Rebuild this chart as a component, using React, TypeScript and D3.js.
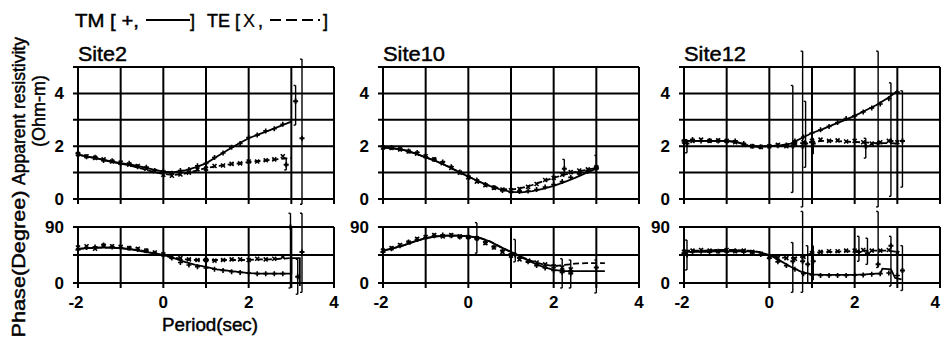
import React from 'react';
import * as d3 from 'd3';

// ---------- data (log10 period on x) ----------
const siteNames = ['Site2', 'Site10', 'Site12'];
const xTicks = [-2, -1, 0, 1, 2, 3, 4];
const xTickLabels = ['-2', '0', '2', '4'];
const rhoGrid = [0, 1, 2, 3, 4, 5];
const rhoTickLabels = ['0', '2', '4'];
const phGrid = [0, 45, 90];
const phTickLabels = ['0', '90'];

const curvePeriods = [-2, -1.75, -1.5, -1.25, -1, -0.75, -0.5, -0.25, 0, 0.25, 0.5, 0.75, 1, 1.25, 1.5, 1.75, 2, 2.25, 2.5, 2.75, 3];

const site2RhoTMCurve = [1.68, 1.6, 1.52, 1.43, 1.36, 1.3, 1.22, 1.12, 1.04, 1.02, 1.08, 1.2, 1.35, 1.6, 1.85, 2.08, 2.3, 2.46, 2.61, 2.77, 2.93];
const site2RhoTECurve = [1.68, 1.6, 1.52, 1.42, 1.34, 1.25, 1.15, 1.04, 0.95, 0.91, 0.96, 1.07, 1.17, 1.24, 1.3, 1.35, 1.4, 1.44, 1.48, 1.52, 1.55];
const site2PhTMCurve = [55, 56, 57, 57, 56, 54, 51, 48, 45, 40, 34, 29, 26, 22, 20, 18, 16, 15, 15, 15, 15];
const site2PhTECurve = [55, 56, 57, 57, 56, 54, 52, 48, 44, 41, 38, 37, 37, 37, 37, 37, 37, 38, 38, 39, 40];
const site2PhTMTailX = [3.0, 3.2, 3.2];
const site2PhTMTailY = [40, 40, -5];

const site10RhoTMCurve = [1.95, 1.92, 1.85, 1.73, 1.58, 1.43, 1.25, 1.05, 0.85, 0.66, 0.5, 0.36, 0.27, 0.25, 0.3, 0.38, 0.5, 0.64, 0.8, 0.98, 1.15];
const site10RhoTECurve = [1.95, 1.92, 1.85, 1.73, 1.58, 1.43, 1.25, 1.05, 0.85, 0.66, 0.5, 0.4, 0.35, 0.42, 0.53, 0.67, 0.8, 0.92, 1.02, 1.1, 1.18];
const site10PhTMCurve = [52, 56, 61, 67, 72, 75, 76, 76, 75, 73, 67, 58, 50, 41, 33, 26, 21, 19, 19, 19, 19];
const site10PhTECurve = [52, 56, 61, 67, 72, 75, 76, 76, 75, 73, 67, 58, 50, 42, 35, 30, 27, 29, 31, 32, 32];
const site10PhTMTailX = [3.2];
const site10PhTMTailY = [19];
const site10PhTETailX = [3.2];
const site10PhTETailY = [32];

const site12RhoTMCurve = [2.2, 2.2, 2.2, 2.2, 2.2, 2.15, 2.02, 1.98, 2.0, 2.03, 2.1, 2.3, 2.5, 2.65, 2.82, 2.98, 3.15, 3.35, 3.55, 3.8, 4.08];
const site12RhoTECurve = [2.2, 2.2, 2.2, 2.2, 2.2, 2.15, 2.02, 1.98, 2.0, 2.03, 2.08, 2.12, 2.16, 2.2, 2.2, 2.18, 2.16, 2.14, 2.12, 2.12, 2.1];
const site12PhTMCurve = [50, 50, 50, 51, 51, 51, 51, 50, 45, 36, 26, 18, 14, 13, 13, 13, 13, 14, 15];
const site12PhTECurve = [52, 52, 52, 53, 53, 53, 52, 50, 44, 41, 40, 42, 48, 50, 50, 51, 51, 52, 52, 52, 50];
const site12PhTMTailX = [2.6, 2.65, 2.85, 2.95, 3.1];
const site12PhTMTailY = [15, 23, 22, 8, 6];

const markerPeriods = [-2, -1.8, -1.6, -1.4, -1.2, -1, -0.8, -0.6, -0.4, -0.2, 0, 0.2, 0.4, 0.6, 0.8, 1, 1.2, 1.4, 1.6, 1.8, 2, 2.2, 2.4, 2.6, 2.8, 3];

const site2RhoTMPts = [1.72, 1.6, 1.58, 1.46, 1.45, 1.33, 1.35, 1.22, 1.2, 1.08, 1.06, 0.98, 1.08, 1.12, 1.26, 1.35, 1.57, 1.74, 1.96, 2.1, 2.33, 2.42, 2.58, 2.66, 2.83, null];
const site2RhoTEPts = [1.7, 1.62, 1.56, 1.5, 1.42, 1.38, 1.3, 1.25, 1.15, 1.05, 0.92, 0.88, 0.93, 1.0, 1.12, 1.15, 1.25, 1.27, 1.33, 1.35, 1.42, 1.42, 1.47, 1.5, 1.62, null];
const site2PhTMPts = [53, 57, 58, 61, 58, 57, 56, 54, 52, 48, 45, 40, 33, 29, 26, 24, 22, 20, 18, 17, 16, 15, 15, 15, 15, null];
const site2PhTEPts = [57, 59, 55, 60, 59, 58, 56, 55, 52, 49, 46, 42, 40, 38, 37, 37, 36, 37, 38, 38, 37, 39, 38, 39, 42, null];

const site10RhoTMPts = [1.98, 1.95, 1.9, 1.82, 1.76, 1.6, 1.5, 1.4, 1.22, 1.02, 0.85, 0.72, 0.55, 0.44, 0.32, 0.25, 0.28, 0.3, 0.36, 0.45, 0.55, 0.66, 0.82, 0.95, 1.05, 1.15];
const site10RhoTEPts = [1.95, 1.93, 1.88, 1.8, 1.72, 1.62, 1.5, 1.36, 1.18, 1.0, 0.82, 0.66, 0.52, 0.42, 0.36, 0.33, 0.38, 0.46, 0.57, 0.72, 0.8, 0.92, 1.02, 1.08, 1.12, 1.2];
const site10PhTMPts = [50, 55, 60, 66, 70, 73, 76, 77, 76, 74, 73, 71, 65, 58, 52, 47, 40, 34, 28, 24, 20, 17, 15, null, null, null];
const site10PhTEPts = [52, 56, 61, 65, 71, 74, 77, 75, 77, 75, 74, 72, 64, 57, 50, 44, 38, 36, 33, 30, 27, 25, 22, null, null, null];

const site12RhoTMPts = [2.2, 2.25, 2.2, 2.22, 2.2, 2.18, 2.2, 2.1, 2.0, 1.98, 2.0, 2.02, 2.05, 2.2, 2.35, 2.5, 2.62, 2.75, 2.9, 3.05, 3.15, 3.3, 3.45, 3.6, 3.8, 4.05];
const site12RhoTEPts = [2.18, 2.2, 2.25, 2.2, 2.22, 2.2, 2.15, 2.05, 2.0, 1.97, 2.0, 2.05, 2.0, 2.1, 2.15, 2.2, 2.25, 2.2, 2.22, 2.18, 2.2, 2.15, 2.1, 2.15, 2.2, 2.15];
const site12PhTMPts = [48, 50, 51, 50, 51, 50, 52, 50, 49, 46, 40, 34, 28, 22, 15, 13, 12, 12, 12, 12, 13, 13, 14, 15, 16, 12];
const site12PhTEPts = [50, 52, 53, 52, 51, 53, 51, 52, 50, 47, 42, 40, 40, 39, 42, 48, 50, 51, 51, 52, 52, 53, 52, 52, 53, 48];

// error bars: [period, value, low, high]
const site2RhoErr = [[2.88, 1.3, 1.1, 1.55], [3.1, 3.7, 2.8, 4.3], [3.25, 2.3, -0.2, 5.3]];
const site2PhErr = [[2.98, 90, -8, 112], [3.15, 10, -18, 38], [3.25, 50, -15, 112]];
const site10RhoErr = [[2.25, 1.15, 0.9, 1.5], [3.0, 1.2, 1.0, 1.65]];
const site10PhErr = [[0.2, 72, 48, 97], [1.1, 45, 34, 70], [2.2, 20, -8, 39], [2.4, 18, -8, 37], [3.0, 25, -16, 37]];
const site12RhoErr = [[-1.93, 2.1, 1.75, 2.25], [0.55, 2.0, 0.25, 4.3], [0.78, 2.0, -0.3, 5.6], [0.85, 2.1, 1.2, 3.7], [1.03, 2.1, 1.7, 2.3], [2.26, 2.0, 1.55, 2.3], [2.55, 2.1, -0.3, 5.6], [2.85, 2.2, 0.1, 4.4], [3.12, 2.2, 0.45, 4.1]];
const site12PhErr = [[-1.93, 45, 21, 69], [0.55, 35, -15, 65], [0.78, 35, -15, 115], [0.9, 30, 0, 60], [1.03, 35, 5, 60], [2.1, 50, 35, 75], [2.3, 48, 30, 72], [2.55, 30, 25, 115], [2.85, 60, -5, 75], [3.12, 20, -12, 60]];

// ---------- layout ----------
const FONT = '"Liberation Sans", Arial, Helvetica, sans-serif';
const LEFTS = [78, 383, 684];
const PW = 256;
const RHO_TOP = 67, RHO_BOT = 199, PH_TOP = 227, PH_BOT = 283;
const W = 941;

type Pt = [number, number];
const zip = (xs: number[], ys: (number | null)[]): Pt[] =>
  xs.map((x, i) => [x, ys[i]] as [number, number | null]).filter(d => d[1] !== null && d[1] !== undefined) as Pt[];

const sites = [
  {
    rhoTM: zip(curvePeriods, site2RhoTMCurve), rhoTE: zip(curvePeriods, site2RhoTECurve),
    phTM: zip(curvePeriods, site2PhTMCurve).concat(zip(site2PhTMTailX, site2PhTMTailY)),
    phTE: zip(curvePeriods, site2PhTECurve),
    rhoTMp: zip(markerPeriods, site2RhoTMPts), rhoTEp: zip(markerPeriods, site2RhoTEPts),
    phTMp: zip(markerPeriods, site2PhTMPts), phTEp: zip(markerPeriods, site2PhTEPts),
    rhoErr: site2RhoErr, phErr: site2PhErr,
  },
  {
    rhoTM: zip(curvePeriods, site10RhoTMCurve), rhoTE: zip(curvePeriods, site10RhoTECurve),
    phTM: zip(curvePeriods, site10PhTMCurve).concat(zip(site10PhTMTailX, site10PhTMTailY)),
    phTE: zip(curvePeriods, site10PhTECurve).concat(zip(site10PhTETailX, site10PhTETailY)),
    rhoTMp: zip(markerPeriods, site10RhoTMPts), rhoTEp: zip(markerPeriods, site10RhoTEPts),
    phTMp: zip(markerPeriods, site10PhTMPts), phTEp: zip(markerPeriods, site10PhTEPts),
    rhoErr: site10RhoErr, phErr: site10PhErr,
  },
  {
    rhoTM: zip(curvePeriods, site12RhoTMCurve), rhoTE: zip(curvePeriods, site12RhoTECurve),
    phTM: zip(curvePeriods, site12PhTMCurve).concat(zip(site12PhTMTailX, site12PhTMTailY)),
    phTE: zip(curvePeriods, site12PhTECurve),
    rhoTMp: zip(markerPeriods, site12RhoTMPts), rhoTEp: zip(markerPeriods, site12RhoTEPts),
    phTMp: zip(markerPeriods, site12PhTMPts), phTEp: zip(markerPeriods, site12PhTEPts),
    rhoErr: site12RhoErr, phErr: site12PhErr,
  },
];

const PLUS = 'M-2.5,0H2.5M0,-2.5V2.5';
const CROSS = 'M-2,-2L2,2M-2,2L2,-2';
const INK = { stroke: '#000', strokeWidth: 0.45 };

function Panel({ idx }: { idx: number }) {
  const s = sites[idx];
  const left = LEFTS[idx];
  const x = d3.scaleLinear().domain([-2, 4]).range([left, left + PW]);
  const yR = d3.scaleLinear().domain([0, 5]).range([RHO_BOT, RHO_TOP]);
  const yP = d3.scaleLinear().domain([0, 90]).range([PH_BOT, PH_TOP]);
  const lineR = d3.line<Pt>().x(d => x(d[0])).y(d => yR(d[1]));
  const lineP = d3.line<Pt>().x(d => x(d[0])).y(d => yP(d[1]));

  const grid = (y: d3.ScaleLinear<number, number>, vals: number[], top: number, bot: number) => (
    <g stroke="#000" strokeWidth={2} fill="none">
      {vals.map(v => <line key={'h' + v} x1={left - 5} x2={left + PW} y1={y(v)} y2={y(v)} />)}
      {xTicks.map(t => <line key={'v' + t} x1={x(t)} x2={x(t)} y1={top} y2={bot + 5} />)}
    </g>
  );

  const err = (rows: number[][], y: d3.ScaleLinear<number, number>) => (
    <g stroke="#000" strokeWidth={1.4} fill="none">
      {rows.map((r, i) => (
        <g key={i}>
          <line x1={x(r[0])} x2={x(r[0])} y1={y(r[2])} y2={y(r[3])} />
          <line x1={x(r[0]) - 2} x2={x(r[0])} y1={y(r[2])} y2={y(r[2])} />
          <line x1={x(r[0]) - 2} x2={x(r[0])} y1={y(r[3])} y2={y(r[3])} />
          <path d={PLUS} transform={`translate(${x(r[0])},${y(r[1])})`} strokeWidth={2} />
        </g>
      ))}
    </g>
  );

  const marks = (pts: Pt[], y: d3.ScaleLinear<number, number>, shape: string) => (
    <g stroke="#000" strokeWidth={1.6} fill="none">
      {pts.map((p, i) => <path key={i} d={shape} transform={`translate(${x(p[0])},${y(p[1])})`} />)}
    </g>
  );

  return (
    <g>
      <text x={left} y={61} fontSize={20} fontFamily={FONT} {...INK} textLength={idx === 0 ? 49 : 62} lengthAdjust="spacingAndGlyphs">{siteNames[idx]}</text>
      {grid(yR, rhoGrid, RHO_TOP, RHO_BOT)}
      {grid(yP, phGrid, PH_TOP, PH_BOT)}
      {rhoTickLabels.map(l => (
        <text key={'r' + l} x={left - 14} y={yR(+l) + 6} textAnchor="end" fontSize={17} fontWeight="bold" fontFamily={FONT}>{l}</text>
      ))}
      {phTickLabels.map(l => (
        <text key={'p' + l} x={left - 14} y={yP(+l) + 6} textAnchor="end" fontSize={17} fontWeight="bold" fontFamily={FONT}>{l}</text>
      ))}
      {xTickLabels.map(l => {
        const px = x(+l) + (l.startsWith('-') ? -2 : 0);
        const edge = px + 6 > W;
        return (
          <text key={'x' + l} x={edge ? W - 1 : px} y={308} textAnchor={edge ? 'end' : 'middle'} fontSize={17} fontWeight="bold" fontFamily={FONT}>{l}</text>
        );
      })}
      {/* model curves */}
      <path d={lineR(s.rhoTM) || ''} stroke="#000" strokeWidth={1.8} fill="none" />
      <path d={lineR(s.rhoTE) || ''} stroke="#000" strokeWidth={1.8} fill="none" strokeDasharray="6 3" />
      <path d={lineP(s.phTM) || ''} stroke="#000" strokeWidth={1.8} fill="none" />
      <path d={lineP(s.phTE) || ''} stroke="#000" strokeWidth={1.8} fill="none" strokeDasharray="6 3" />
      {/* data */}
      {marks(s.rhoTMp, yR, PLUS)}
      {marks(s.rhoTEp, yR, CROSS)}
      {marks(s.phTMp, yP, PLUS)}
      {marks(s.phTEp, yP, CROSS)}
      {err(s.rhoErr, yR)}
      {err(s.phErr, yP)}
    </g>
  );
}

export default function App() {
  return (
    <svg width={W} height={343} style={{ position: 'absolute', left: 0, top: 0, background: '#fff' }}>
      <rect width={W} height={343} fill="#fff" />
      {/* legend */}
      <g fontFamily={FONT} fontSize={18} {...INK}>
        <text x={75} y={27} textLength={64} lengthAdjust="spacingAndGlyphs">TM [ +,</text>
        <line x1={146} x2={190} y1={20} y2={20} stroke="#000" strokeWidth={2} />
        <text x={190} y={27}>]</text>
        <text x={207} y={27}>TE [</text>
        <text x={243} y={27} strokeWidth={0.2}>X</text>
        <text x={258} y={27}>,</text>
        <line x1={270} x2={320} y1={20} y2={20} stroke="#000" strokeWidth={2} strokeDasharray="11 5" />
        <text x={323} y={27}>]</text>
      </g>
      {/* axis titles */}
      <g fontFamily={FONT} fontSize={18} textAnchor="middle" {...INK}>
        <text transform="translate(25,111) rotate(-90)" textLength={148} lengthAdjust="spacingAndGlyphs">Apparent resistivity</text>
        <text transform="translate(45,111) rotate(-90)" textLength={72} lengthAdjust="spacingAndGlyphs">(Ohm-m)</text>
        <text transform="translate(25,264) rotate(-90)" textLength={147} lengthAdjust="spacingAndGlyphs">Phase(Degree)</text>
        <text x={210} y={331} fontSize={18} textLength={96} lengthAdjust="spacingAndGlyphs">Period(sec)</text>
      </g>
      {[0, 1, 2].map(i => <Panel key={i} idx={i} />)}
    </svg>
  );
}
